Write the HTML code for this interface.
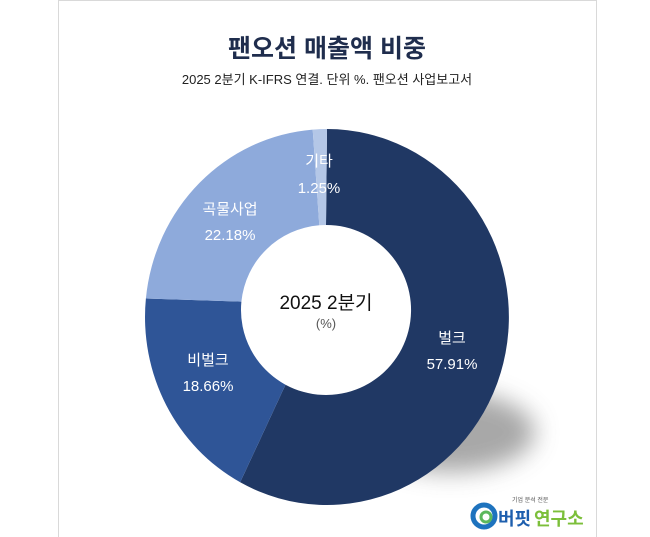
<!DOCTYPE html>
<html><head><meta charset="utf-8"><style>
html,body{margin:0;padding:0;background:#fff;}
svg{display:block;}
text{font-family:"Liberation Sans","Noto Sans CJK KR",sans-serif;}
</style></head><body>
<svg width="650" height="537" viewBox="0 0 650 537" xmlns="http://www.w3.org/2000/svg">
<defs>
<filter id="b" x="-50%" y="-50%" width="200%" height="200%"><feGaussianBlur stdDeviation="12"/></filter>
</defs>
<rect x="58.5" y="0.5" width="538" height="540" fill="#fff" stroke="#d9d9d9"/>
<text x="327" y="57" font-size="25" font-weight="bold" fill="#1f2d4d" text-anchor="middle">팬오션 매출액 비중</text>
<text x="327" y="84" font-size="13" fill="#222" text-anchor="middle">2025 2분기 K-IFRS 연결. 단위 %. 팬오션 사업보고서</text>
<ellipse cx="450" cy="432" rx="85" ry="40" fill="#999" filter="url(#b)" opacity="0.85"/>
<path d="M327,129 A182,188 0 1 1 240.2,482.3 L285.5,384.7 A85,85 0 1 0 326,225 Z" fill="#203864"/>
<path d="M240.2,482.3 A182,188 0 0 1 145.9,298.5 L241.4,301.6 A85,85 0 0 0 285.5,384.7 Z" fill="#2f5597"/>
<path d="M145.9,298.5 A182,188 0 0 1 312.7,129.6 L319.3,225.3 A85,85 0 0 0 241.4,301.6 Z" fill="#8eaadb"/>
<path d="M312.7,129.6 A182,188 0 0 1 327,129 L326,225 A85,85 0 0 0 319.3,225.3 Z" fill="#b4c7e7"/>
<g font-size="15" fill="#fff" text-anchor="middle">
<text x="319" y="166">기타</text><text x="319" y="193">1.25%</text>
<text x="230" y="214">곡물사업</text><text x="230" y="240">22.18%</text>
<text x="208" y="365">비벌크</text><text x="208" y="391">18.66%</text>
<text x="452" y="343">벌크</text><text x="452" y="369">57.91%</text>
</g>
<text x="326" y="309" font-size="19" fill="#111" text-anchor="middle">2025 2분기</text>
<text x="326" y="328" font-size="13" fill="#555" text-anchor="middle">(%)</text>
<circle cx="484" cy="516" r="11" fill="none" stroke="#1e73be" stroke-width="5"/>
<circle cx="486" cy="517" r="5" fill="none" stroke="#5cb85c" stroke-width="3"/>
<text x="512" y="502" font-size="6" fill="#555">기업 분석 전문</text>
<text x="498" y="525" font-size="18" font-weight="bold" fill="#1e5fae">버핏</text>
<text x="534" y="525" font-size="18" font-weight="bold" fill="#7cbf3a">연구소</text>
</svg>
</body></html>
